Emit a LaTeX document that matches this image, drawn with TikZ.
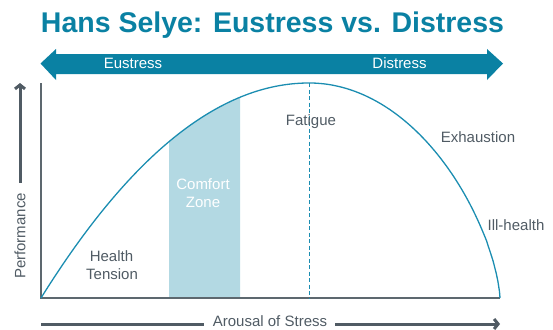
\documentclass[tikz,border=0pt]{standalone}
\usepackage{fontspec}
\setmainfont{Liberation Sans}
\usetikzlibrary{arrows.meta}
\definecolor{teal1}{HTML}{0A81A3}
\definecolor{curvec}{HTML}{1B8DB1}
\definecolor{zonec}{HTML}{B3D9E3}
\definecolor{greyt}{HTML}{505B64}
\definecolor{axisc}{HTML}{5D686F}
\tikzset{
  lbl/.style={text=greyt, font=\fontsize{15}{18}\selectfont, inner sep=0pt, anchor=base},
  wlbl/.style={text=white, font=\fontsize{15}{18}\selectfont, inner sep=0pt, anchor=base},
  axisline/.style={axisc, line width=1.4pt},
  bigarrow/.style={greyt, line width=3pt, -{Straight Barb[length=4pt,width=10pt]}},
  bigline/.style={greyt, line width=3pt}
}
\begin{document}
\begin{tikzpicture}[x=1pt,y=-1pt]
\useasboundingbox (0,0) rectangle (553,329);
% title
\node[text=teal1, font=\fontsize{28.5}{32}\selectfont\bfseries, inner sep=0pt, anchor=base] (title) at (272.5,33) {Hans Selye: Eustress vs. Distress};
% double arrow band
\fill[teal1] (40.5,63.5) -- (56,49) -- (56,54) -- (487,54) -- (487,49) -- (503,63.5) -- (487,80) -- (487,74) -- (56,74) -- (56,80) -- cycle;
\node[wlbl] (eu) at (133,68.5) {Eustress};
\node[wlbl] (di) at (399.5,68.5) {Distress};
% comfort zone
\fill[zonec] plot[domain=169:240, samples=30] (\x,{298-215*(1-((309-\x)/268)^2)}) -- (240,298) -- (169,298) -- cycle;
% axes
\coordinate (o) at (41,298);
\coordinate (ytop) at (41,83);
\coordinate (xend) at (500,298);
\draw[axisline] (ytop) -- (o) -- (xend);
% dashed line
\coordinate (peak) at (309,83);
\coordinate (peakb) at (309,298);
\draw[curvec, line width=1pt, dash pattern=on 4pt off 2.5pt] (peak) -- (peakb);
% curve
\draw[curvec, line width=1.3pt] plot[domain=41:309, samples=80] (\x,{298-215*(1-((309-\x)/268)^2)})
  -- plot[domain=309:499.5, samples=120] (\x,{298-215*(1-((\x-309)/191)^2)^0.67}) -- (xend);
% labels
\node[lbl] (h1) at (111.5,261) {Health};
\node[lbl] (h2) at (112,279) {Tension};
\node[wlbl] (c1) at (203,189) {Comfort};
\node[wlbl] (c2) at (203,207) {Zone};
\node[lbl] (fat) at (311,125) {Fatigue};
\node[lbl] (exh) at (478,142) {Exhaustion};
\node[lbl] (ill) at (516,230) {Ill-health};
% x axis label
\node[lbl, anchor=center] (arousal) at (270,321) {Arousal of Stress};
\coordinate (xl) at (41,324);
\coordinate (xr) at (500,324);
\draw[bigline] (xl) -- ([xshift=-9pt]arousal.west |- xl);
\draw[bigarrow] ([xshift=8pt]arousal.east |- xl) -- (xr);
% y axis label
\node[lbl, anchor=center, rotate=90] (perf) at (20,236) {Performance};
\coordinate (yt) at (20,83);
\draw[bigarrow] ([yshift=10pt]perf.east) -- (yt);
\end{tikzpicture}
\end{document}
